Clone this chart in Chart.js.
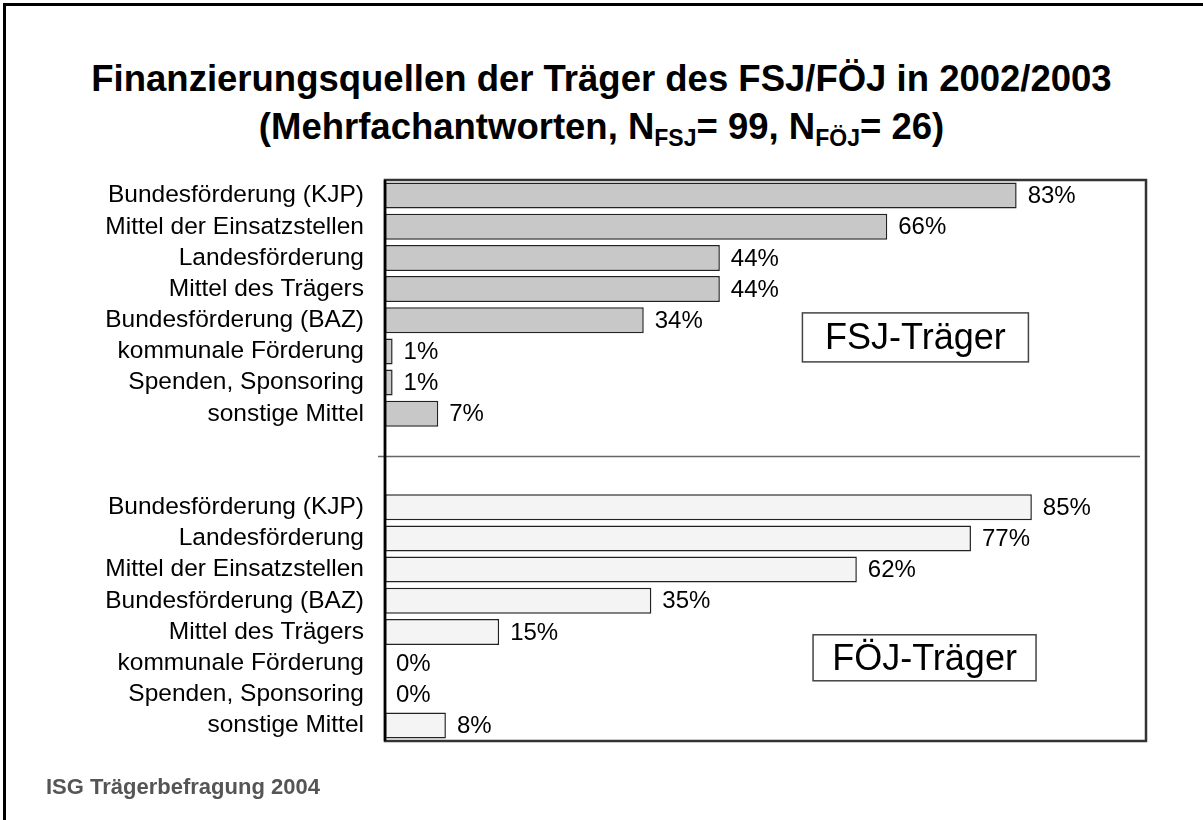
<!DOCTYPE html>
<html>
<head>
<meta charset="utf-8">
<script src="https://cdn.jsdelivr.net/npm/chart.js@4.4.0/dist/chart.umd.min.js"></script>
<style>
  html, body { margin: 0; padding: 0; background: #fff; }
  #wrap { position: relative; width: 1203px; height: 820px; overflow: hidden; font-family: "Liberation Sans", Arial, sans-serif; }
  #frame { position: absolute; left: 3px; top: 3px; width: 1300px; height: 900px; border-left: 3px solid #000; border-top: 3px solid #000; }
  .title { position: absolute; left: 0; width: 1203px; margin: 0; text-align: center; font-size: 36.5px; font-weight: bold; line-height: 36px; color: #000; }
  .title sub { font-size: 23px; vertical-align: -7px; line-height: 0; }
  #src { position: absolute; left: 46px; top: 776px; font-size: 22px; font-weight: bold; color: #555; line-height: 22px; }
  canvas { position: absolute; left: 0; top: 0; }
</style>
</head>
<body>
<div id="wrap">
  <div id="frame"></div>
  <div class="title" style="top:61px">Finanzierungsquellen der Träger des FSJ/FÖJ in 2002/2003</div>
  <div class="title" style="top:109px">(Mehrfachantworten, N<sub>FSJ</sub>= 99, N<sub>FÖJ</sub>= 26)</div>
  <canvas id="chart" width="1203" height="820"></canvas>
  <div id="src">ISG Trägerbefragung 2004</div>
</div>
<script>
  const fontFamily = '"Liberation Sans", Arial, sans-serif';

  const fsjLabels = ['Bundesförderung (KJP)', 'Mittel der Einsatzstellen', 'Landesförderung', 'Mittel des Trägers',
    'Bundesförderung (BAZ)', 'kommunale Förderung', 'Spenden, Sponsoring', 'sonstige Mittel'];
  const fsjValues = [83, 66, 44, 44, 34, 1, 1, 7];

  const foejLabels = ['Bundesförderung (KJP)', 'Landesförderung', 'Mittel der Einsatzstellen', 'Bundesförderung (BAZ)',
    'Mittel des Trägers', 'kommunale Förderung', 'Spenden, Sponsoring', 'sonstige Mittel'];
  const foejValues = [85, 77, 62, 35, 15, 0, 0, 8];

  const groupNames = ['FSJ-Träger', 'FÖJ-Träger'];
  const gapSlots = 2;

  const fsjColor = '#c8c8c8';
  const foejColor = '#f4f4f4';

  // one category axis, two empty slots between the groups
  const labels = [...fsjLabels, ...Array(gapSlots).fill(''), ...foejLabels];
  const values = [...fsjValues, ...Array(gapSlots).fill(null), ...foejValues];
  const colors = labels.map((l, i) => i < fsjLabels.length ? fsjColor : foejColor);

  const decorPlugin = {
    id: 'decor',
    beforeDatasetsDraw(chart) {
      const ctx = chart.ctx;
      const area = chart.chartArea;
      const y = chart.scales.y.getPixelForValue(fsjLabels.length + 0.37);
      ctx.save();
      ctx.strokeStyle = '#666';
      ctx.lineWidth = 1.5;
      ctx.beginPath();
      ctx.moveTo(area.left - 7, y);
      ctx.lineTo(area.right - 6, y);
      ctx.stroke();
      ctx.restore();
    },
    afterDatasetsDraw(chart) {
      const ctx = chart.ctx;
      const area = chart.chartArea;
      const meta = chart.getDatasetMeta(0);
      ctx.save();
      // value labels
      ctx.font = '24px ' + fontFamily;
      ctx.fillStyle = '#000';
      ctx.textBaseline = 'middle';
      ctx.textAlign = 'left';
      meta.data.forEach((bar, i) => {
        if (values[i] === null) return;
        ctx.fillText(values[i] + '%', bar.x + 11, bar.y + 1);
      });
      // plot frame
      ctx.strokeStyle = '#333';
      ctx.lineWidth = 2.5;
      ctx.strokeRect(area.left, area.top, area.right - area.left, area.bottom - area.top);
      ctx.strokeStyle = '#000';
      ctx.beginPath();
      ctx.moveTo(area.left, area.top);
      ctx.lineTo(area.left, area.bottom);
      ctx.stroke();
      // group boxes
      const xs = chart.scales.x, ys = chart.scales.y;
      const boxes = [
        { text: groupNames[0], cx: xs.getPixelForValue(69.7), cy: ys.getPixelForValue(4.55), w: 226, h: 49 },
        { text: groupNames[1], cx: xs.getPixelForValue(70.9), cy: ys.getPixelForValue(14.83), w: 223, h: 46 }
      ];
      ctx.font = '36px ' + fontFamily;
      ctx.textAlign = 'center';
      ctx.lineWidth = 1.5;
      ctx.strokeStyle = '#444';
      boxes.forEach(b => {
        ctx.fillStyle = '#fff';
        ctx.fillRect(b.cx - b.w / 2, b.cy - b.h / 2, b.w, b.h);
        ctx.strokeRect(b.cx - b.w / 2, b.cy - b.h / 2, b.w, b.h);
        ctx.fillStyle = '#000';
        ctx.fillText(b.text, b.cx, b.cy + 2);
      });
      ctx.restore();
    }
  };

  new Chart(document.getElementById('chart'), {
    type: 'bar',
    data: {
      labels: labels,
      datasets: [{
        data: values,
        backgroundColor: colors,
        borderColor: '#222',
        borderWidth: 1.5,
        borderSkipped: false,
        categoryPercentage: 1,
        barPercentage: 0.835
      }]
    },
    options: {
      indexAxis: 'y',
      responsive: false,
      animation: false,
      layout: { padding: { top: 180, right: 57, bottom: 79, left: 0 } },
      plugins: {
        legend: { display: false },
        tooltip: { enabled: false }
      },
      scales: {
        x: { display: false, min: 0, max: 100 },
        y: {
          afterFit: function (scale) { scale.width = 385; },
          grid: { display: false, drawTicks: false },
          border: { display: false },
          ticks: {
            autoSkip: false,
            color: '#000',
            padding: 21,
            font: { family: fontFamily, size: 24.5 }
          }
        }
      }
    },
    plugins: [decorPlugin]
  });
</script>
</body>
</html>
